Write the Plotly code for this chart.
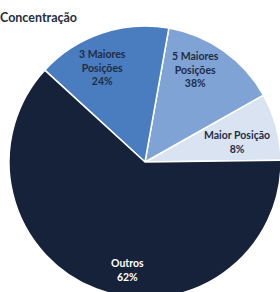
import plotly.graph_objects as go

# Data (slice sizes are the increments of the cumulative concentration)
slice_names = ["Maior Posição", "5 Maiores Posições", "3 Maiores Posições", "Outros"]
slice_values = [8, 14, 16, 62]
slice_labels = ["Maior Posição<br>8%", "5 Maiores<br>Posições<br>38%",
                "3 Maiores<br>Posições<br>24%", "Outros<br>62%"]

# Styles
slice_colors = ["#D9E3F2", "#7FA3D5", "#4A7CC0", "#15223A"]
text_colors = ["#1F2D45", "#1F2D45", "#1F2D45", "#FFFFFF"]
# label anchor points in paper fractions (layout only)
label_xy = [(0.840, 0.575), (0.684, 0.840), (0.342, 0.847), (0.434, 0.103)]

fig = go.Figure(go.Pie(
    labels=slice_names,
    values=slice_values,
    textinfo="none",
    sort=False,
    direction="counterclockwise",
    rotation=60.5,
    marker=dict(colors=slice_colors, line=dict(color="white", width=1.5)),
    hoverinfo="skip",
    showlegend=False,
))

for txt, col, (x, y) in zip(slice_labels, text_colors, label_xy):
    fig.add_annotation(text=f"<b>{txt}</b>", x=x, y=y, xref="paper", yref="paper",
                       xanchor="center", yanchor="middle", showarrow=False,
                       font=dict(family="Lato", size=10.5, color=col))

fig.update_layout(
    width=281, height=298,
    margin=dict(l=9, r=0, t=26, b=0),
    paper_bgcolor="white",
    title=dict(text="<b>Concentração</b>", x=0, xref="container", xanchor="left",
               y=1 - 18 / 298, yref="container", yanchor="middle", pad=dict(l=0),
               font=dict(family="Lato", size=12.5, color="#1F2D45")),
)

fig.write_html("out.html", config={"displayModeBar": False},
               post_script="document.body.style.margin='0';document.body.style.overflow='hidden';document.documentElement.style.overflow='hidden';")
